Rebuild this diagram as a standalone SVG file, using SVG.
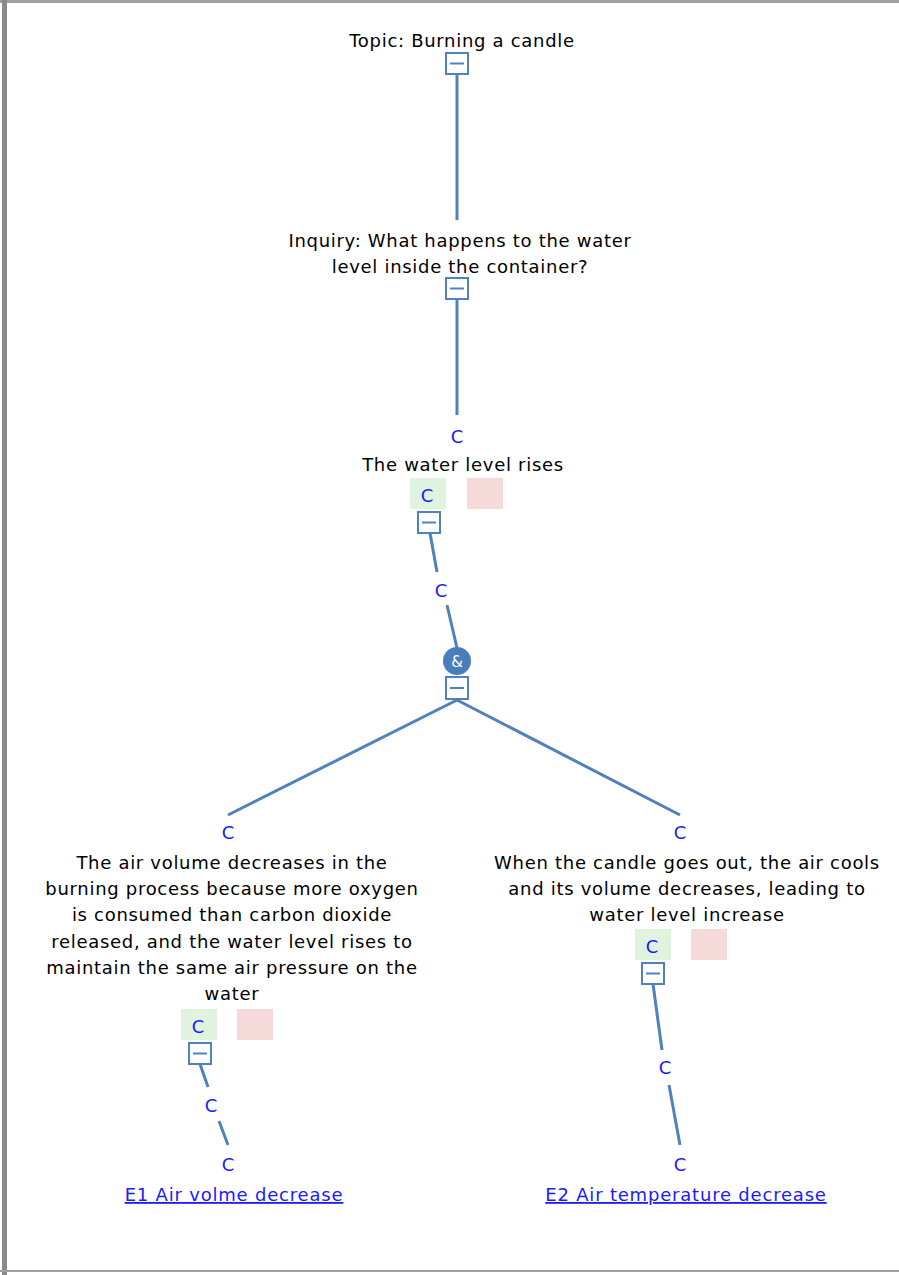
<svg xmlns="http://www.w3.org/2000/svg" width="899" height="1275" viewBox="0 0 899 1275">
<style>
.t{font-family:"DejaVu Sans",Verdana,sans-serif;font-size:18px;letter-spacing:0.7px;fill:#000;text-anchor:middle}
.c{font-family:"DejaVu Sans",Verdana,sans-serif;font-size:18px;fill:#1a1aff;text-anchor:middle}
.l{font-family:"DejaVu Sans",Verdana,sans-serif;font-size:18px;letter-spacing:0.8px;fill:#1a1aff;text-anchor:middle;text-decoration:underline}
.ln{stroke:#4f81bd;stroke-width:3;fill:none}
.mb{fill:#fff;stroke:#4f81bd;stroke-width:2}
.mm{stroke:#4f81bd;stroke-width:2}
.g{fill:#dff3df}
.r{fill:#f6dada}
</style>
<rect x="0" y="0" width="899" height="1275" fill="#fff"/>
<rect x="0" y="0" width="899" height="3" fill="#a0a0a0"/>
<rect x="2" y="0" width="5" height="1275" fill="#8a8a8a"/>
<rect x="0" y="1270" width="899" height="2" fill="#a0a0a0"/>
<g id="connectors">
<line class="ln" x1="457" y1="75" x2="457" y2="220"/>
<line class="ln" x1="457" y1="300" x2="457" y2="415"/>
<line class="ln" x1="430" y1="533" x2="437" y2="572"/>
<line class="ln" x1="447" y1="605" x2="457" y2="648"/>
<line class="ln" x1="457" y1="700" x2="228" y2="815"/>
<line class="ln" x1="457" y1="700" x2="680" y2="815"/>
<line class="ln" x1="200" y1="1064" x2="208" y2="1087"/>
<line class="ln" x1="219" y1="1121" x2="228" y2="1145"/>
<line class="ln" x1="653" y1="984" x2="662" y2="1050"/>
<line class="ln" x1="669" y1="1085" x2="680" y2="1145"/>
<text class="c" x="441" y="597">C</text>
<text class="c" x="211" y="1112">C</text>
<text class="c" x="665" y="1074">C</text>
</g>
<g id="topic">
<text class="t" x="462" y="47">Topic: Burning a candle</text>
<rect class="mb" x="446" y="53" width="22" height="21"/>
<line class="mm" x1="450" y1="63.5" x2="464" y2="63.5"/>
</g>
<g id="inquiry">
<text class="t" x="460" y="247">Inquiry: What happens to the water</text>
<text class="t" x="460" y="273">level inside the container?</text>
<rect class="mb" x="446" y="278" width="22" height="21"/>
<line class="mm" x1="450" y1="288.5" x2="464" y2="288.5"/>
</g>
<g id="claim">
<text class="c" x="457" y="443">C</text>
<text class="t" x="463" y="471">The water level rises</text>
<rect class="g" x="410" y="478" width="36" height="31"/>
<text class="c" x="427" y="502">C</text>
<rect class="r" x="467" y="478" width="36" height="31"/>
<rect class="mb" x="418" y="512" width="22" height="21"/>
<line class="mm" x1="422" y1="522.5" x2="436" y2="522.5"/>
</g>
<g id="and">
<circle cx="457" cy="661" r="14" fill="#4a7ebb"/>
<text x="457" y="667" font-family="DejaVu Sans,sans-serif" font-size="15" fill="#fff" text-anchor="middle">&amp;</text>
<rect class="mb" x="446" y="677" width="22" height="22"/>
<line class="mm" x1="450" y1="688" x2="464" y2="688"/>
</g>
<g id="reason1">
<text class="c" x="228" y="839">C</text>
<text class="t" x="232" y="869">The air volume decreases in the</text>
<text class="t" x="232" y="895">burning process because more oxygen</text>
<text class="t" x="232" y="921">is consumed than carbon dioxide</text>
<text class="t" x="232" y="948">released, and the water level rises to</text>
<text class="t" x="232" y="974">maintain the same air pressure on the</text>
<text class="t" x="232" y="1000">water</text>
<rect class="g" x="181" y="1009" width="36" height="31"/>
<text class="c" x="198" y="1033">C</text>
<rect class="r" x="237" y="1009" width="36" height="31"/>
<rect class="mb" x="189" y="1043" width="22" height="21"/>
<line class="mm" x1="193" y1="1053.5" x2="207" y2="1053.5"/>
</g>
<g id="reason2">
<text class="c" x="680" y="839">C</text>
<text class="t" x="687" y="869">When the candle goes out, the air cools</text>
<text class="t" x="687" y="895">and its volume decreases, leading to</text>
<text class="t" x="687" y="921">water level increase</text>
<rect class="g" x="635" y="929" width="36" height="31"/>
<text class="c" x="652" y="953">C</text>
<rect class="r" x="691" y="929" width="36" height="31"/>
<rect class="mb" x="642" y="963" width="22" height="21"/>
<line class="mm" x1="646" y1="973.5" x2="660" y2="973.5"/>
</g>
<g id="evidence1">
<text class="c" x="228" y="1171">C</text>
<text class="l" x="234" y="1201">E1 Air volme decrease</text>
</g>
<g id="evidence2">
<text class="c" x="680" y="1171">C</text>
<text class="l" x="686" y="1201">E2 Air temperature decrease</text>
</g>
</svg>
